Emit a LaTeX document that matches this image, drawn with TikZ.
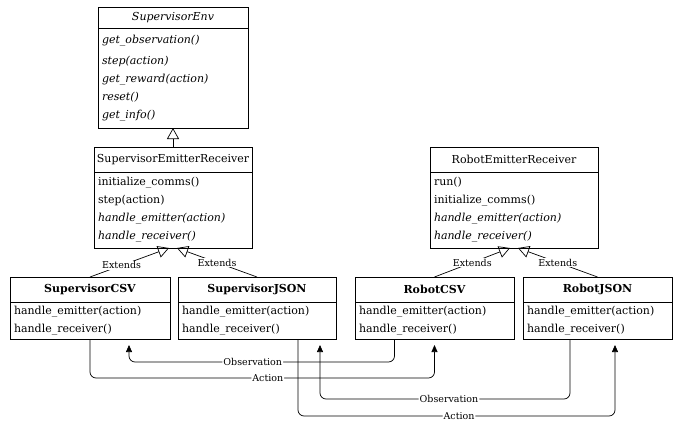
\documentclass[tikz,border=0pt]{standalone}
\usepackage{fontspec}
\setmainfont{DejaVu Serif}
\usetikzlibrary{positioning,arrows.meta}

\begin{document}
\begin{tikzpicture}[x=1pt,y=-1pt,
    head/.style={draw,line width=0.8pt,anchor=north,minimum height=25pt,inner sep=0pt,outer sep=0pt,font=\fontsize{11}{13}\selectfont},
    body/.style={draw,line width=0.8pt,inner xsep=4pt,inner ysep=0pt,outer sep=0pt,align=left,font=\fontsize{11}{18}\selectfont},
    inherit/.style={line width=0.7pt,-{Triangle[open,length=11pt,width=12pt]}},
    flow/.style={line width=0.7pt,rounded corners=6pt,-{Triangle[length=7pt,width=6pt]}},
    lbl/.style={fill=white,inner sep=1pt,font=\fontsize{9.5}{11}\selectfont}]
  \useasboundingbox (0,0) rectangle (673,423);
  % abstract environment
  \node[head,minimum width=150pt,minimum height=21pt] (env) at (173,7) {\itshape SupervisorEnv};
  \node[body,text width=142pt,minimum height=100pt,below=0pt of env] (envb)
    {\itshape get\_observation()\\[3pt] \itshape step(action)\\ \itshape get\_reward(action)\\ \itshape reset()\\ \itshape get\_info()};
  % emitter / receiver bases
  \node[head,minimum width=158pt] (ser) at (173,147) {SupervisorEmitterReceiver};
  \node[body,text width=150pt,minimum height=76pt,below=0pt of ser] (serb)
    {initialize\_comms()\\ step(action)\\ \itshape handle\_emitter(action)\\ \itshape handle\_receiver()};
  \node[head,minimum width=168pt] (rer) at (514,147) {RobotEmitterReceiver};
  \node[body,text width=160pt,minimum height=76pt,below=0pt of rer] (rerb)
    {run()\\ initialize\_comms()\\ \itshape handle\_emitter(action)\\ \itshape handle\_receiver()};
  % concrete classes
  \node[head,minimum width=160pt] (scsv) at (90,277) {\bfseries SupervisorCSV};
  \node[body,text width=152pt,minimum height=37pt,below=0pt of scsv] (scsvb)
    {handle\_emitter(action)\\ handle\_receiver()};
  \node[head,minimum width=158pt] (sjson) at (257,277) {\bfseries SupervisorJSON};
  \node[body,text width=150pt,minimum height=37pt,below=0pt of sjson] (sjsonb)
    {handle\_emitter(action)\\ handle\_receiver()};
  \node[head,minimum width=159pt] (rcsv) at (434.5,277) {\bfseries RobotCSV};
  \node[body,text width=151pt,minimum height=37pt,below=0pt of rcsv] (rcsvb)
    {handle\_emitter(action)\\ handle\_receiver()};
  \node[head,minimum width=149pt] (rjson) at (597.5,277) {\bfseries RobotJSON};
  \node[body,text width=141pt,minimum height=37pt,below=0pt of rjson] (rjsonb)
    {handle\_emitter(action)\\ handle\_receiver()};
  % inheritance
  \draw[inherit] (ser.north) -- (envb.south);
  \draw[inherit] (scsv.north) -- node[lbl,pos=0.4]{Extends} ([xshift=-4pt]serb.south);
  \draw[inherit] (sjson.north) -- node[lbl]{Extends} ([xshift=4pt]serb.south);
  \draw[inherit] (rcsv.north) -- node[lbl]{Extends} ([xshift=-4pt]rerb.south);
  \draw[inherit] (rjson.north) -- node[lbl]{Extends} ([xshift=4pt]rerb.south);
  % messages
  \draw[flow] ([xshift=-40pt]rcsvb.south) -- ++(0,23) -| node[lbl,pos=0.267]{Observation} ([xshift=39pt,yshift=-6pt]scsvb.south);
  \draw[flow] (scsvb.south) -- ++(0,39) -| node[lbl,pos=0.258]{Action} ([yshift=-6pt]rcsvb.south);
  \draw[flow] ([xshift=-27.5pt]rjsonb.south) -- ++(0,60) -| node[lbl,pos=0.242]{Observation} ([xshift=63pt,yshift=-6pt]sjsonb.south);
  \draw[flow] ([xshift=41pt]sjsonb.south) -- ++(0,77) -| node[lbl,pos=0.254]{Action} ([xshift=17.5pt,yshift=-6pt]rjsonb.south);
\end{tikzpicture}
\end{document}
